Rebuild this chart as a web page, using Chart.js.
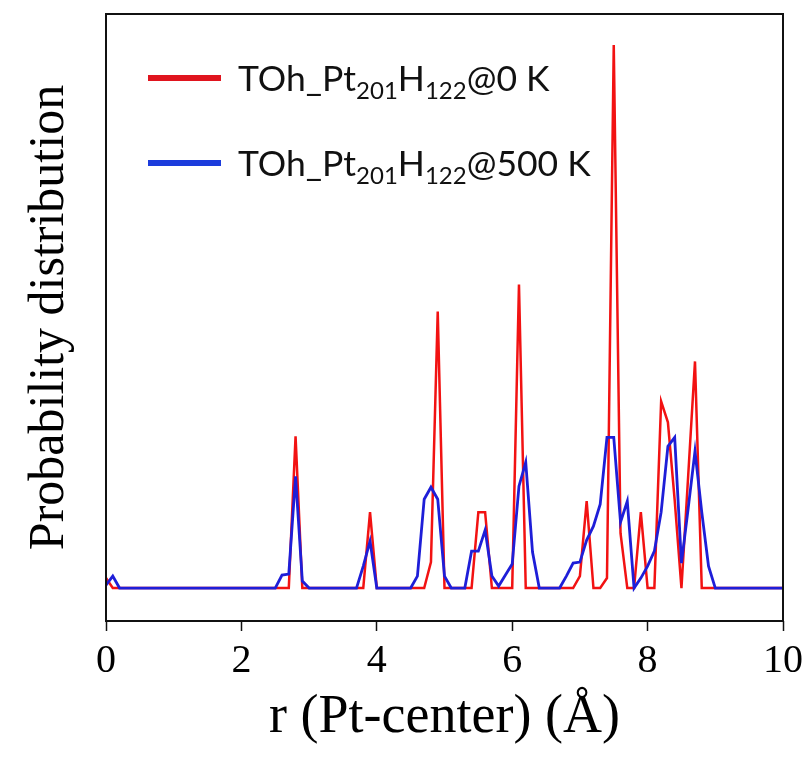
<!DOCTYPE html>
<html>
<head>
<meta charset="utf-8">
<script src="https://cdn.jsdelivr.net/npm/chart.js@4/dist/chart.umd.min.js"></script>
<style>
  html, body { margin: 0; padding: 0; background: #ffffff; }
  #wrap { width: 808px; height: 758px; position: relative; }
</style>
</head>
<body>
<div id="wrap"><canvas id="c" width="808" height="758"></canvas></div>
<script>
// Radial distance grid r (Å)
const rValues = [
  0.0, 0.1, 0.2, 0.3, 0.4, 0.5, 0.6, 0.7, 0.8, 0.9,
  1.0, 1.1, 1.2, 1.3, 1.4, 1.5, 1.6, 1.7, 1.8, 1.9,
  2.0, 2.1, 2.2, 2.3, 2.4, 2.5, 2.6, 2.7, 2.8, 2.9,
  3.0, 3.1, 3.2, 3.3, 3.4, 3.5, 3.6, 3.7, 3.8, 3.9,
  4.0, 4.1, 4.2, 4.3, 4.4, 4.5, 4.6, 4.7, 4.8, 4.9,
  5.0, 5.1, 5.2, 5.3, 5.4, 5.5, 5.6, 5.7, 5.8, 5.9,
  6.0, 6.1, 6.2, 6.3, 6.4, 6.5, 6.6, 6.7, 6.8, 6.9,
  7.0, 7.1, 7.2, 7.3, 7.4, 7.5, 7.6, 7.7, 7.8, 7.9,
  8.0, 8.1, 8.2, 8.3, 8.4, 8.5, 8.6, 8.7, 8.8, 8.9,
  9.0, 9.1, 9.2, 9.3, 9.4, 9.5, 9.6, 9.7, 9.8, 9.9,
  10.0
];

// Pt-center distance distribution, static structure (0 K)
const prob0K = [
  0.010, 0, 0, 0, 0, 0, 0, 0, 0, 0,
  0, 0, 0, 0, 0, 0, 0, 0, 0, 0,
  0, 0, 0, 0, 0, 0, 0, 0, 0.152, 0,
  0, 0, 0, 0, 0, 0, 0, 0, 0, 0.076,
  0, 0, 0, 0, 0, 0, 0, 0, 0.026, 0.277,
  0, 0, 0, 0, 0, 0.076, 0.076, 0, 0, 0,
  0, 0.304, 0, 0, 0, 0, 0, 0, 0, 0,
  0.012, 0.087, 0, 0, 0.010, 0.544, 0.055, 0, 0, 0.076,
  0, 0, 0.187, 0.166, 0.088, 0, 0.113, 0.227, 0, 0,
  0, 0, 0, 0, 0, 0, 0, 0, 0, 0,
  0
];

// Pt-center distance distribution, thermal average at 500 K
const prob500K = [
  0.003, 0.012, 0, 0, 0, 0, 0, 0, 0, 0,
  0, 0, 0, 0, 0, 0, 0, 0, 0, 0,
  0, 0, 0, 0, 0, 0, 0.013, 0.014, 0.112, 0.007,
  0, 0, 0, 0, 0, 0, 0, 0, 0.022, 0.047,
  0, 0, 0, 0, 0, 0, 0.012, 0.089, 0.101, 0.089,
  0.012, 0, 0, 0, 0.037, 0.037, 0.058, 0.012, 0.002, 0.013,
  0.024, 0.102, 0.126, 0.036, 0, 0, 0, 0, 0.012, 0.025,
  0.026, 0.048, 0.062, 0.084, 0.151, 0.151, 0.066, 0.087, 0, 0.010,
  0.022, 0.037, 0.076, 0.142, 0.151, 0.025, 0.080, 0.137, 0.076, 0.022,
  0, 0, 0, 0, 0, 0, 0, 0, 0, 0,
  0
];

// Legend text pieces: [text, isSubscript]
const label0K = [["TOh_Pt", false], ["201", true], ["H", false], ["122", true], ["@0 K", false]];
const label500K = [["TOh_Pt", false], ["201", true], ["H", false], ["122", true], ["@500 K", false]];

const xTicks = [0, 2, 4, 6, 8, 10];

const RED = '#f21212';
const BLUE = '#1e1ed8';

function toPoints(xs, ys) {
  return xs.map((x, i) => ({ x: x, y: ys[i] }));
}

// Black box around the plotting area
const framePlugin = {
  id: 'frame',
  afterDatasetsDraw(chart) {
    const { ctx, chartArea: a } = chart;
    ctx.save();
    ctx.strokeStyle = '#111';
    ctx.lineWidth = 2;
    ctx.strokeRect(a.left, a.top, a.right - a.left, a.bottom - a.top);
    ctx.restore();
  }
};

// Legend inside the plot, with subscripted formula text
const subLegendPlugin = {
  id: 'subLegend',
  afterDraw(chart) {
    const { ctx, chartArea: a } = chart;
    const rows = [
      { parts: label0K, color: '#e0141e', dy: 64 },
      { parts: label500K, color: '#1c3cdc', dy: 149 }
    ];
    ctx.save();
    rows.forEach(row => {
      const yLine = a.top + row.dy;
      ctx.strokeStyle = row.color;
      ctx.lineWidth = 6;
      ctx.beginPath();
      ctx.moveTo(a.left + 42, yLine);
      ctx.lineTo(a.left + 115, yLine);
      ctx.stroke();
      let x = a.left + 132;
      const base = yLine + 13;
      ctx.fillStyle = '#111';
      ctx.textBaseline = 'alphabetic';
      ctx.textAlign = 'left';
      row.parts.forEach(([txt, sub]) => {
        ctx.font = sub ? '24px Lato' : '35.5px Lato';
        ctx.fillText(txt, x, sub ? base + 8 : base);
        x += ctx.measureText(txt).width;
      });
    });
    ctx.restore();
  }
};

new Chart(document.getElementById('c'), {
  type: 'line',
  data: {
    datasets: [
      {
        label: 'TOh_Pt201H122@0 K',
        data: toPoints(rValues, prob0K),
        borderColor: RED,
        backgroundColor: RED,
        borderWidth: 2.5,
        pointRadius: 0,
        tension: 0,
        order: 1
      },
      {
        label: 'TOh_Pt201H122@500 K',
        data: toPoints(rValues, prob500K),
        borderColor: BLUE,
        backgroundColor: BLUE,
        borderWidth: 2.8,
        pointRadius: 0,
        tension: 0,
        order: 0
      }
    ]
  },
  options: {
    responsive: false,
    animation: false,
    layout: { padding: { left: 3, right: 25, top: 14, bottom: 13 } },
    plugins: {
      legend: { display: false },
      tooltip: { enabled: false }
    },
    scales: {
      x: {
        type: 'linear',
        min: 0,
        max: 10,
        afterBuildTicks(scale) {
          scale.ticks = xTicks.map(v => ({ value: v }));
        },
        // edge labels may overhang the plot; the outer layout padding covers them
        afterFit(scale) {
          scale.paddingLeft = 0;
          scale.paddingRight = 0;
        },
        ticks: {
          color: '#000',
          font: { family: 'Liberation Serif', size: 40, lineHeight: 1.0 },
          padding: 10,
          maxRotation: 0
        },
        grid: {
          display: true,
          drawOnChartArea: false,
          drawTicks: true,
          tickLength: 10,
          tickColor: '#111',
          tickWidth: 1.5
        },
        border: { display: false },
        title: {
          display: true,
          text: 'r (Pt-center) (Å)',
          color: '#000',
          font: { family: 'Liberation Serif', size: 54, lineHeight: 1.0 },
          padding: { top: 0, bottom: 0 }
        }
      },
      y: {
        type: 'linear',
        min: -0.033,
        max: 0.575,
        ticks: { display: false },
        grid: { display: false, drawTicks: false },
        border: { display: false },
        title: {
          display: true,
          text: 'Probability distribution',
          color: '#000',
          font: { family: 'Liberation Serif', size: 50 },
          padding: { top: 17, bottom: 26 }
        }
      }
    }
  },
  plugins: [framePlugin, subLegendPlugin]
});
</script>
</body>
</html>
